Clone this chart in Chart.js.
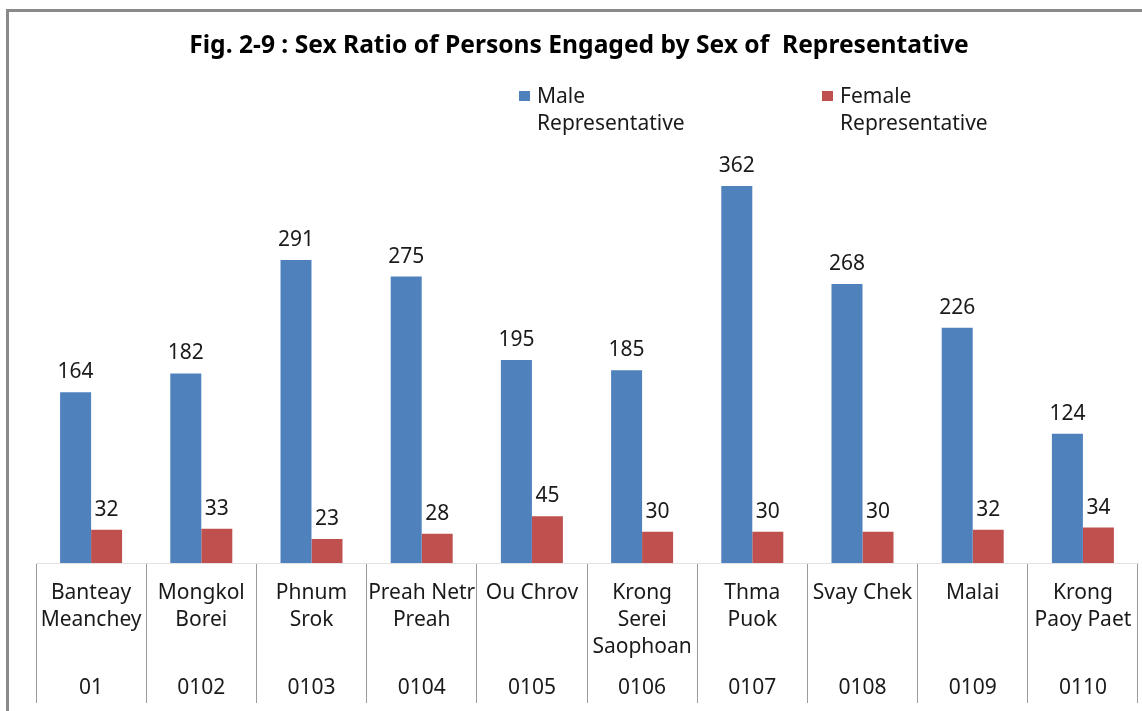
<!DOCTYPE html>
<html><head><meta charset="utf-8">
<script src="https://cdn.jsdelivr.net/npm/chart.js@4.4.1/dist/chart.umd.min.js"></script>
<style>
html,body{margin:0;padding:0;background:#fff;overflow:hidden;}
#wrap{position:relative;width:1142px;height:711px;}
#frame{position:absolute;left:6px;top:9px;width:1200px;height:800px;border-top:3px solid #8a8a8a;border-left:3px solid #8a8a8a;}
canvas{position:absolute;left:0;top:0;}
</style></head><body>
<div id="wrap"><div id="frame"></div><canvas id="c" width="1142" height="711"></canvas></div>
<script>
const titleText = 'Fig. 2-9 : Sex Ratio of Persons Engaged by Sex of  Representative';
const districtNames = [
  ['Banteay', 'Meanchey'], ['Mongkol', 'Borei'], ['Phnum', 'Srok'], ['Preah Netr', 'Preah'],
  ['Ou Chrov'], ['Krong', 'Serei', 'Saophoan'], ['Thma', 'Puok'], ['Svay Chek'], ['Malai'], ['Krong', 'Paoy Paet']
];
const districtCodes = ['01', '0102', '0103', '0104', '0105', '0106', '0107', '0108', '0109', '0110'];
const maleValues = [164, 182, 291, 275, 195, 185, 362, 268, 226, 124];
const femaleValues = [32, 33, 23, 28, 45, 30, 30, 30, 32, 34];
const seriesNames = ['Male Representative', 'Female Representative'];
const legendLines = [['Male', 'Representative'], ['Female', 'Representative']];
const seriesColors = ['#4F81BD', '#C0504D'];

const FONT = '"Noto Sans", "Open Sans", sans-serif';
const TEXT = '#1a1a1a';
const FS = 21;

const valueLabels = {
  id: 'valueLabels',
  afterDatasetsDraw(chart) {
    const ctx = chart.ctx;
    ctx.save();
    ctx.font = FS + 'px ' + FONT;
    ctx.fillStyle = TEXT;
    ctx.textAlign = 'center';
    ctx.textBaseline = 'middle';
    chart.data.datasets.forEach((ds, i) => {
      chart.getDatasetMeta(i).data.forEach((el, j) => {
        ctx.fillText(String(ds.data[j]), el.x, el.y - 20);
      });
    });
    ctx.restore();
  }
};

const manualLegend = {
  id: 'manualLegend',
  afterDraw(chart) {
    const ctx = chart.ctx;
    const boxLeft = [519, 822];
    const firstLineY = 97;
    ctx.save();
    ctx.font = FS + 'px ' + FONT;
    ctx.textAlign = 'left';
    ctx.textBaseline = 'middle';
    chart.data.datasets.forEach((ds, i) => {
      const x = boxLeft[i];
      ctx.fillStyle = ds.backgroundColor;
      ctx.fillRect(x, firstLineY - 6, 11, 10);
      ctx.fillStyle = TEXT;
      legendLines[i].forEach((line, j) => ctx.fillText(line, x + 18, firstLineY + j * 27));
    });
    ctx.restore();
  }
};

new Chart(document.getElementById('c'), {
  type: 'bar',
  data: {
    labels: districtNames,
    datasets: [
      { label: seriesNames[0], data: maleValues, backgroundColor: seriesColors[0], borderWidth: 0,
        categoryPercentage: 0.5626, barPercentage: 1 },
      { label: seriesNames[1], data: femaleValues, backgroundColor: seriesColors[1], borderWidth: 0,
        categoryPercentage: 0.5626, barPercentage: 1 }
    ]
  },
  options: {
    responsive: false,
    devicePixelRatio: 1,
    animation: false,
    layout: { padding: { left: 20, right: 4, top: 0, bottom: 8 } },
    plugins: {
      legend: { display: false },
      tooltip: { enabled: false },
      title: {
        display: true, text: titleText, color: '#000',
        font: { family: FONT, size: 24.6, weight: 'bold', lineHeight: 1.2 },
        padding: { top: 31.2, bottom: 85.7 }
      }
    },
    scales: {
      y: {
        min: 0, max: 400,
        display: true,
        ticks: { display: false },
        grid: { display: false },
        border: { display: false },
        afterFit(s) { s.width = 16; }
      },
      x: {
        position: 'bottom', weight: 0,
        offset: true,
        grid: { offset: true, drawOnChartArea: false, drawTicks: true, tickLength: 140, color: '#9a9a9a', lineWidth: 1 },
        border: { display: true, color: '#e2e2e2' },
        ticks: { autoSkip: false, maxRotation: 0, minRotation: 0, padding: -123.5, color: TEXT,
          font: { family: FONT, size: FS, lineHeight: 27 / FS } },
        afterFit(s) { s.height = 110; }
      },
      x2: {
        type: 'category', position: 'bottom', weight: 1,
        labels: districtCodes,
        offset: true,
        grid: { display: false, drawTicks: false },
        border: { display: false },
        ticks: { autoSkip: false, maxRotation: 0, minRotation: 0, padding: 1.5, color: TEXT,
          font: { family: FONT, size: FS, lineHeight: 27 / FS } },
        afterFit(s) { s.height = 30; }
      }
    }
  },
  plugins: [valueLabels, manualLegend]
});
</script>
</body></html>
